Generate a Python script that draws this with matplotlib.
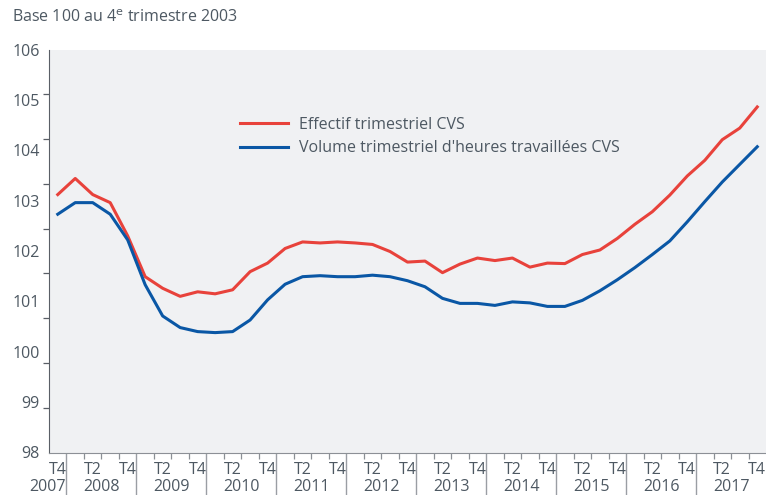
import numpy as np
import matplotlib
matplotlib.use('Agg')
import matplotlib.pyplot as plt

# Font settings
plt.rcParams['font.family'] = ['Open Sans', 'DejaVu Sans']

# ---------------------- Data (base 100 au T4 2003) ----------------------
# quarters from T4 2007 to T4 2017
quarters = ['T4'] + [q for y in range(2008, 2018) for q in ['T1', 'T2', 'T3', 'T4']]
years = [2007] + [y for y in range(2008, 2018) for _ in range(4)]

effectif = [103.12, 103.44, 103.12, 102.96, 102.30, 101.49, 101.26, 101.10, 101.19, 101.15,
            101.23, 101.59, 101.76, 102.05, 102.18, 102.16, 102.18, 102.16, 102.13, 101.99,
            101.78, 101.80, 101.57, 101.74, 101.86, 101.81, 101.86, 101.68, 101.76, 101.75,
            101.93, 102.02, 102.25, 102.53, 102.78, 103.11, 103.49, 103.80, 104.21, 104.44,
            104.86]
volume = [102.73, 102.96, 102.96, 102.73, 102.22, 101.33, 100.71, 100.48, 100.40, 100.38,
          100.40, 100.63, 101.03, 101.34, 101.49, 101.51, 101.49, 101.49, 101.52, 101.49,
          101.41, 101.29, 101.06, 100.96, 100.96, 100.92, 100.99, 100.97, 100.90, 100.90,
          101.02, 101.21, 101.43, 101.67, 101.93, 102.20, 102.58, 102.98, 103.37, 103.72,
          104.07]

labels = ['Effectif trimestriel CVS', "Volume trimestriel d'heures travaillées CVS"]
y_labels = [98, 99, 100, 101, 102, 103, 104, 105, 106]

# Colors and font size
text_color = '#4d5862'
red = '#e8423b'
blue = '#0a57a5'
fs = 11.5

x = np.arange(len(quarters))

fig = plt.figure(figsize=(7.66, 4.95), dpi=100)
ax = fig.add_axes([49 / 766, 1 - 452.5 / 495, 1 - 49 / 766, (452.5 - 49.5) / 495])
ax.set_facecolor('#f0f1f3')

# Plot the two series
ax.plot(x, effectif, color=red, linewidth=2.2, label=labels[0], solid_joinstyle='round')
ax.plot(x, volume, color=blue, linewidth=2.2, label=labels[1], solid_joinstyle='round')

ax.set_xlim(-0.5, len(quarters) - 0.5)
ax.set_ylim(98, 106)

# Spines
for s in ['top', 'right']:
    ax.spines[s].set_visible(False)
ax.spines['left'].set_color('#5a5f66')
ax.spines['bottom'].set_color('#8c9096')

# Y axis: labels at integer values, tick marks on a separate grid
ax.set_yticks(y_labels)
ax.set_yticklabels([str(v) for v in y_labels])
ax.tick_params(axis='y', which='major', length=0, pad=6.5, labelsize=fs, labelcolor=text_color)
ax.set_yticks(np.linspace(98, 106, 10), minor=True)
ax.tick_params(axis='y', which='minor', length=4, width=0.9, color='#5a5f66')

# X axis: year separators (long) and quarter boundaries (short)
year_bounds = [i + 0.5 for i in range(len(quarters) - 1) if quarters[i] == 'T4']
quarter_bounds = [i + 0.5 for i in range(len(quarters) - 1) if quarters[i] != 'T4']
ax.set_xticks(year_bounds)
ax.set_xticklabels([])
ax.tick_params(axis='x', which='major', length=40, width=1.0, color='#9a9ea4')
ax.set_xticks(quarter_bounds, minor=True)
ax.tick_params(axis='x', which='minor', length=4, width=0.9, color='#8c9096')

# Quarter labels (T2 and T4)
trans = ax.get_xaxis_transform()
for i, q in enumerate(quarters):
    if q in ('T2', 'T4'):
        ax.text(i, -0.0434, q, transform=trans, ha='center', va='center',
                fontsize=fs, color=text_color)

# Year labels centred on each year (kept inside the picture)
for yr in sorted(set(years)):
    idx = [i for i, v in enumerate(years) if v == yr]
    if len(idx) == 4:
        ax.text(np.mean(idx), -0.0955, str(yr), transform=trans, ha='center', va='baseline',
                fontsize=fs, color=text_color)
    else:
        ax.text(idx[-1] + 0.45, -0.0955, str(yr), transform=trans, ha='right', va='baseline',
                fontsize=fs, color=text_color)

# Legend
leg = ax.legend(loc='center left', bbox_to_anchor=(240 / 766, 1 - 136.5 / 495),
                bbox_transform=fig.transFigure, frameon=False, fontsize=fs,
                handlelength=3.0, handletextpad=0.7, labelspacing=0.5,
                borderpad=0, borderaxespad=0)
for t in leg.get_texts():
    t.set_color(text_color)

# Title
fig.text(12 / 766, 1 - 18 / 495, 'Base 100 au 4$^{\\mathrm{e}}$ trimestre 2003',
         ha='left', va='center', fontsize=fs, color=text_color)

fig.savefig('out.png', dpi=100)
